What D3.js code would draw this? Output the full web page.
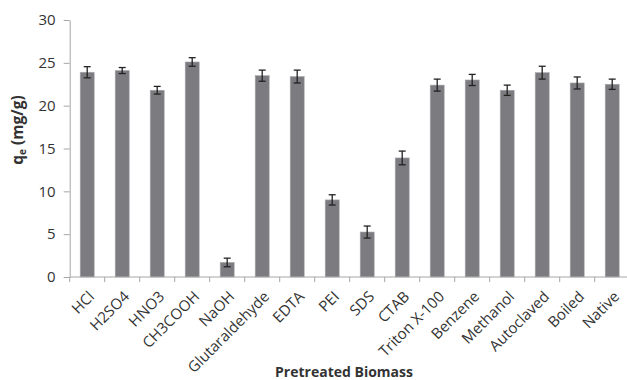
<!DOCTYPE html>
<html><head><meta charset="utf-8">
<script src="https://cdn.jsdelivr.net/npm/d3@7"></script>
<style>body{margin:0;background:#fff}svg{display:block}text{font-family:"Open Sans",sans-serif}</style>
</head><body>
<script>
const categories = ["HCl","H2SO4","HNO3","CH3COOH","NaOH","Glutaraldehyde","EDTA","PEI","SDS","CTAB","Triton X-100","Benzene","Methanol","Autoclaved","Boiled","Native"];
const values = [23.9,24.1,21.8,25.1,1.7,23.5,23.4,9.0,5.25,13.9,22.4,23.0,21.8,23.85,22.65,22.5];
const errors = [0.65,0.35,0.45,0.5,0.5,0.65,0.75,0.6,0.7,0.8,0.7,0.65,0.6,0.75,0.7,0.6];
const yTicks = [0,5,10,15,20,25,30];

const W = 627, H = 380;
const svg = d3.select("body").append("svg").attr("width", W).attr("height", H);
const x = d3.scaleBand().domain(categories).range([69.7, 629.7]).paddingInner(0.6).paddingOuter(0.3);
const y = d3.scaleLinear().domain([0,30]).range([277, 20]);

// bars
svg.append("g").selectAll("rect").data(categories).join("rect")
  .attr("x", d => x(d)).attr("width", x.bandwidth())
  .attr("y", (d,i) => y(values[i])).attr("height", (d,i) => y(0) - y(values[i]))
  .attr("fill", "#7b7b80").attr("stroke", "#a9a9ad").attr("stroke-width", 0.6);

// error bars
const eb = svg.append("g").attr("stroke", "#222").attr("stroke-width", 1.3);
categories.forEach((c,i) => {
  const cx = x(c) + x.bandwidth()/2;
  const t = y(values[i] + errors[i]), b = y(values[i] - errors[i]);
  eb.append("line").attr("x1", cx).attr("x2", cx).attr("y1", t).attr("y2", b);
  eb.append("line").attr("x1", cx-3.5).attr("x2", cx+3.5).attr("y1", t).attr("y2", t);
  eb.append("line").attr("x1", cx-3.5).attr("x2", cx+3.5).attr("y1", b).attr("y2", b);
});

// y axis
const ya = svg.append("g").attr("transform", "translate(69.7,0)")
  .call(d3.axisLeft(y).tickValues(yTicks).tickSize(6).tickPadding(8).tickSizeOuter(0));
ya.select(".domain").attr("stroke", "#a6a6a6");
ya.selectAll(".tick line").attr("stroke", "#a6a6a6");
ya.selectAll(".tick text").attr("font-size", 15).attr("fill", "#333").style("font-family", "Open Sans");

// x axis
const xa = svg.append("g").attr("transform", "translate(0,277)");
xa.append("line").attr("x1", 69.7).attr("x2", 627).attr("stroke", "#a6a6a6");
const edges = categories.map(c => x(c) - x.step()*x.paddingInner()/2).concat([x(categories[15]) + x.bandwidth() + x.step()*x.paddingInner()/2]);
xa.selectAll("line.tk").data(edges).join("line").attr("class","tk")
  .attr("x1", d => d).attr("x2", d => d).attr("y1", 0).attr("y2", 5).attr("stroke", "#a6a6a6");
xa.selectAll("text").data(categories).join("text")
  .attr("transform", d => `translate(${x(d) + x.bandwidth()/2 + 0.5},${13}) rotate(-45)`)
  .attr("text-anchor", "end").attr("dy", "0.71em")
  .attr("font-size", 15).attr("fill", "#333").text(d => d);

// titles
svg.append("text").attr("x", 344).attr("y", 377).attr("text-anchor", "middle")
  .attr("font-size", 14).attr("font-weight", "bold").attr("fill", "#333").text("Pretreated Biomass");
const yt = svg.append("text").attr("transform", "translate(23,130) rotate(-90)").attr("text-anchor", "middle")
  .attr("font-size", 15.5).attr("font-weight", "bold").attr("fill", "#333");
yt.append("tspan").text("q");
yt.append("tspan").attr("font-size", 10).attr("dy", 3).text("e");
yt.append("tspan").attr("dy", -3).text(" (mg/g)");
</script>
</body></html>
